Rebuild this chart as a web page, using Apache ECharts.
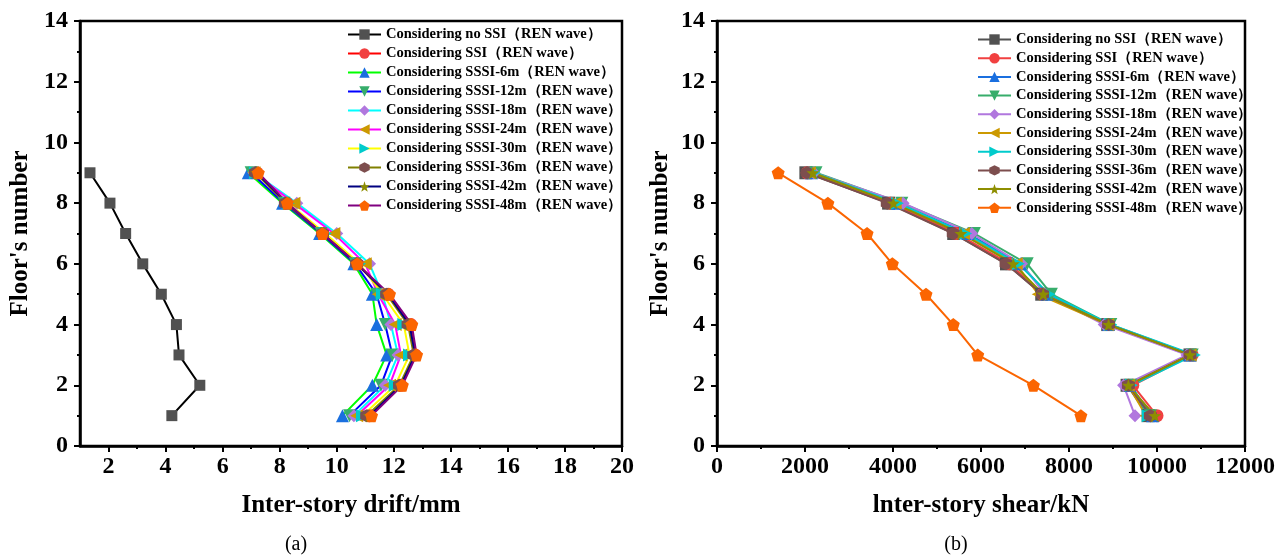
<!DOCTYPE html>
<html><head><meta charset="utf-8">
<script src="https://cdn.jsdelivr.net/npm/echarts@6/dist/echarts.min.js"></script>
<style>html,body{margin:0;padding:0;background:#fff}#c{width:1286px;height:557px}</style>
</head><body><div id="c"></div>
<script>
// ---------- data ----------
const floors = [1, 2, 3, 4, 5, 6, 7, 8, 9];
const seriesNames = [
  'Considering no SSI（REN wave）',
  'Considering SSI（REN wave）',
  'Considering SSSI-6m（REN wave）',
  'Considering SSSI-12m（REN wave）',
  'Considering SSSI-18m（REN wave）',
  'Considering SSSI-24m（REN wave）',
  'Considering SSSI-30m（REN wave）',
  'Considering SSSI-36m（REN wave）',
  'Considering SSSI-42m（REN wave）',
  'Considering SSSI-48m（REN wave）'
];
// (a) inter-story drift (mm), floors 1..9
const driftNoSSI = [4.22, 5.20, 4.47, 4.38, 3.85, 3.20, 2.60, 2.05, 1.35];
const driftSSI   = [11.15, 12.25, 12.75, 12.60, 11.80, 10.70, 9.50, 8.25, 7.20];
const drift6m    = [10.20, 11.25, 11.75, 11.40, 11.25, 10.60, 9.40, 8.10, 6.90];
const drift12m   = [10.45, 11.55, 11.95, 11.70, 11.40, 10.65, 9.45, 8.15, 7.00];
const drift18m   = [10.60, 11.70, 12.15, 11.90, 11.60, 11.15, 10.00, 8.60, 7.10];
const drift24m   = [10.70, 11.85, 12.25, 12.05, 11.45, 11.00, 9.90, 8.50, 7.10];
const drift30m   = [10.90, 12.05, 12.55, 12.35, 11.60, 10.80, 9.60, 8.30, 7.15];
const drift36m   = [11.05, 12.20, 12.70, 12.50, 11.75, 10.70, 9.50, 8.20, 7.15];
const drift42m   = [11.15, 12.25, 12.75, 12.55, 11.80, 10.70, 9.50, 8.25, 7.20];
const drift48m   = [11.22, 12.30, 12.80, 12.63, 11.85, 10.72, 9.50, 8.27, 7.25];
// (b) inter-story shear (kN), floors 1..9
const shearNoSSI = [9800, 9320, 10750, 8880, 7380, 6580, 5380, 3900, 2020];
const shearSSI   = [10000, 9450, 10800, 8900, 7400, 6650, 5450, 3950, 2050];
const shear6m    = [9900, 9380, 10750, 8900, 7500, 6900, 5700, 4100, 2150];
const shear12m   = [9850, 9400, 10800, 8950, 7600, 7050, 5850, 4200, 2250];
const shear18m   = [9500, 9240, 10680, 8800, 7450, 6920, 5790, 4230, 2200];
const shear24m   = [9750, 9350, 10750, 8880, 7300, 6800, 5600, 4050, 2100];
const shear30m   = [9800, 9420, 10850, 8950, 7550, 6850, 5650, 4100, 2200];
const shear36m   = [9850, 9350, 10750, 8900, 7400, 6570, 5370, 3870, 2050];
const shear42m   = [9950, 9350, 10750, 8900, 7415, 6735, 5545, 4010, 2180];
const shear48m   = [8270, 7190, 5925, 5370, 4750, 3985, 3410, 2520, 1390];

const driftSets = [driftNoSSI, driftSSI, drift6m, drift12m, drift18m, drift24m, drift30m, drift36m, drift42m, drift48m];
const shearSets = [shearNoSSI, shearSSI, shear6m, shear12m, shear18m, shear24m, shear30m, shear36m, shear42m, shear48m];

const driftLabelTicks = [2, 4, 6, 8, 10, 12, 14, 16, 18, 20];
const driftMinorTicks = [3, 5, 7, 9, 11, 13, 15, 17, 19];

// ---------- styles ----------
const P_DOWN = 'path://M0,0 L10,0 L5,9 Z';
const P_LEFT = 'path://M0,5 L9,0 L9,10 Z';
const P_RIGHT = 'path://M9,5 L0,0 L0,10 Z';
const P_HEX = 'path://M5,0 L9.33,2.5 L9.33,7.5 L5,10 L0.67,7.5 L0.67,2.5 Z';
const P_STAR = 'path://M5,0 L6.2,3.6 L10,3.7 L7,6 L8.1,9.6 L5,7.5 L1.9,9.6 L3,6 L0,3.7 L3.8,3.6 Z';
const P_PENT = 'path://M5,0 L10,3.7 L8.1,9.6 L1.9,9.6 L0,3.7 Z';
const symbols = ['rect', 'circle', 'triangle', P_DOWN, 'diamond', P_LEFT, P_RIGHT, P_HEX, P_STAR, P_PENT];
const leftLineColors = ['#000000', '#ff0000', '#00ff00', '#0000ff', '#00ffff', '#ff00ff', '#ffff00', '#808000', '#000080', '#800080'];
const markerColors = ['#515151', '#F14040', '#1A6FDF', '#37AD6B', '#B177DE', '#CC9900', '#00CBCC', '#7D4E4E', '#8E8E00', '#FB6501'];

const FONT = '"Liberation Serif", "Times New Roman", serif';
const black = '#000';
const tickFont = { color: black, fontSize: 24, fontWeight: 'bold', fontFamily: FONT };

function valueAxisCommon() {
  return {
    type: 'value',
    axisLine: { show: true, lineStyle: { color: black, width: 2.5 } },
    axisTick: { show: true, length: 6, lineStyle: { color: black, width: 2 } },
    splitLine: { show: false },
    nameLocation: 'middle',
    nameTextStyle: { color: black, fontSize: 25, fontWeight: 'bold', fontFamily: FONT }
  };
}

const series = [];
seriesNames.forEach((nm, i) => {
  series.push({
    type: 'line', name: nm, xAxisIndex: 0, yAxisIndex: 0,
    data: floors.map((f, k) => [driftSets[i][k], f]),
    symbol: symbols[i], symbolSize: i === 0 ? 11 : 13,
    itemStyle: { color: markerColors[i] },
    lineStyle: { color: leftLineColors[i], width: 2 },
    animation: false
  });
});
seriesNames.forEach((nm, i) => {
  series.push({
    type: 'line', name: nm + ' ', xAxisIndex: 2, yAxisIndex: 1,
    data: floors.map((f, k) => [shearSets[i][k], f]),
    symbol: symbols[i], symbolSize: 13,
    itemStyle: { color: markerColors[i] },
    lineStyle: { color: markerColors[i], width: 2 },
    animation: false
  });
});

const legendText = { color: black, fontSize: 14.5, fontWeight: 'bold', fontFamily: FONT, lineHeight: 14 };

const option = {
  backgroundColor: '#fff',
  animation: false,
  grid: [
    { left: 80, top: 21, width: 542, height: 425, show: true, borderColor: black, borderWidth: 2.5 },
    { left: 717, top: 21, width: 528, height: 425, show: true, borderColor: black, borderWidth: 2.5 }
  ],
  xAxis: [
    Object.assign(valueAxisCommon(), {
      gridIndex: 0, min: 1, max: 20, interval: 1,
      name: 'Inter-story drift/mm', nameGap: 47,
      axisTick: { show: true, length: 6, customValues: driftLabelTicks, lineStyle: { color: black, width: 2 } },
      axisLabel: Object.assign({}, tickFont, { margin: 9, customValues: driftLabelTicks,
        formatter: v => (v % 2 === 0 ? String(v) : '') })
    }),
    {
      type: 'value', gridIndex: 0, min: 1, max: 20, interval: 1, position: 'bottom',
      axisLine: { show: false },
      axisTick: { show: true, length: 3, customValues: driftMinorTicks, lineStyle: { color: black, width: 2 } },
      axisLabel: { show: false }, splitLine: { show: false }
    },
    Object.assign(valueAxisCommon(), {
      gridIndex: 1, min: 0, max: 12000, interval: 2000,
      name: 'lnter-story shear/kN', nameGap: 47,
      minorTick: { show: true, splitNumber: 2, length: 3, lineStyle: { color: black, width: 2 } },
      minorSplitLine: { show: false },
      axisLabel: Object.assign({}, tickFont, { margin: 9, formatter: v => String(v) })
    })
  ],
  yAxis: [
    Object.assign(valueAxisCommon(), {
      gridIndex: 0, min: 0, max: 14, interval: 2,
      name: "Floor's number", nameGap: 47,
      minorTick: { show: true, splitNumber: 2, length: 3, lineStyle: { color: black, width: 2 } },
      minorSplitLine: { show: false },
      axisLabel: Object.assign({}, tickFont, { margin: 12 })
    }),
    Object.assign(valueAxisCommon(), {
      gridIndex: 1, min: 0, max: 14, interval: 2,
      name: "Floor's number", nameGap: 44,
      minorTick: { show: true, splitNumber: 2, length: 3, lineStyle: { color: black, width: 2 } },
      minorSplitLine: { show: false },
      axisLabel: Object.assign({}, tickFont, { margin: 12 })
    })
  ],
  legend: [
    { orient: 'vertical', left: 347, top: 27, itemWidth: 33, itemHeight: 13, itemGap: 4,
      padding: 0, data: seriesNames, textStyle: legendText, selectedMode: false },
    { orient: 'vertical', left: 977, top: 32, itemWidth: 33, itemHeight: 13, itemGap: 3.7,
      padding: 0, data: seriesNames.map(n => n + ' '), textStyle: legendText, selectedMode: false }
  ],
  graphic: [
    { type: 'text', x: 296, y: 545, style: { text: '(a)', font: '20px "Liberation Serif", serif', fill: black, align: 'center', verticalAlign: 'middle' } },
    { type: 'text', x: 956, y: 545, style: { text: '(b)', font: '20px "Liberation Serif", serif', fill: black, align: 'center', verticalAlign: 'middle' } }
  ],
  series: series
};

const chart = echarts.init(document.getElementById('c'), null, { renderer: 'canvas' });
chart.setOption(option);
</script>
</body></html>
